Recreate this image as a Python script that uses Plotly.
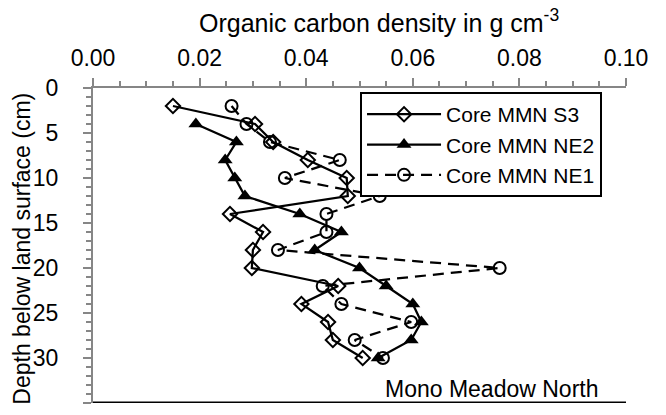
import plotly.graph_objects as go

# Depths (cm)
depth_s3 = [2, 4, 6, 8, 10, 12, 14, 16, 18, 20, 22, 24, 26, 28, 30]
ocd_s3 = [0.0150, 0.0304, 0.0338, 0.0403, 0.0476, 0.0478, 0.0257, 0.0319, 0.0300,
          0.0298, 0.0460, 0.0391, 0.0441, 0.0450, 0.0506]

depth_ne2 = [4, 6, 8, 10, 12, 14, 16, 18, 20, 22, 24, 26, 28, 30]
ocd_ne2 = [0.0193, 0.0269, 0.0248, 0.0266, 0.0285, 0.0388, 0.0466, 0.0416, 0.0500,
           0.0550, 0.0600, 0.0616, 0.0597, 0.0535]

depth_ne1 = [2, 4, 6, 8, 10, 12, 14, 16, 18, 20, 22, 24, 26, 28, 30]
ocd_ne1 = [0.0260, 0.0288, 0.0332, 0.0463, 0.0360, 0.0538, 0.0438, 0.0438, 0.0347,
           0.0763, 0.0431, 0.0466, 0.0597, 0.0491, 0.0544]

x_ticks = [0.00, 0.02, 0.04, 0.06, 0.08, 0.10]
y_ticks = [0, 5, 10, 15, 20, 25, 30, 35]

FONT = "Liberation Sans, Arial, sans-serif"
AX = "#868686"
FS = 23

fig = go.Figure()
fig.add_trace(go.Scatter(
    x=ocd_s3, y=depth_s3, mode="lines+markers", name="Core MMN S3",
    line=dict(color="black", width=2.25),
    marker=dict(symbol="diamond-open", size=11, color="black", line=dict(width=2, color="black")),
))
fig.add_trace(go.Scatter(
    x=ocd_ne2, y=depth_ne2, mode="lines+markers", name="Core MMN NE2",
    line=dict(color="black", width=2.25),
    marker=dict(symbol="triangle-up", size=13, color="black"),
))
fig.add_trace(go.Scatter(
    x=ocd_ne1, y=depth_ne1, mode="lines+markers", name="Core MMN NE1",
    line=dict(color="black", width=2.25, dash="11px,7px"),
    marker=dict(symbol="circle-open", size=12, color="black", line=dict(width=2, color="black")),
))

fig.update_layout(
    template="none",
    width=666, height=415,
    margin=dict(l=93, r=40, t=88, b=12, autoexpand=False),
    paper_bgcolor="white", plot_bgcolor="white",
    font=dict(family=FONT, size=FS, color="black"),
    showlegend=True,
    legend=dict(
        x=0.501, y=0.987, xanchor="left", yanchor="top",
        bgcolor="white", bordercolor="black", borderwidth=2,
        font=dict(size=21), tracegroupgap=0, itemwidth=74,
    ),
    xaxis=dict(
        side="top", range=[0, 0.1], tickvals=x_ticks, tickformat=".2f",
        ticks="outside", ticklen=8, tickwidth=1.5, tickcolor=AX, automargin=False,
        showline=True, linecolor=AX, linewidth=2, showgrid=False, zeroline=False,
        minor=dict(dtick=0.005, ticks="outside", ticklen=5, tickcolor=AX, tickwidth=1.5),
        tickfont=dict(size=FS), ticklabelstandoff=3,
    ),
    yaxis=dict(
        range=[35, 0], tickvals=y_ticks, automargin=False,
        ticks="outside", ticklen=8, tickwidth=1.5, tickcolor=AX,
        showline=True, linecolor=AX, linewidth=2, showgrid=False, zeroline=False,
        minor=dict(dtick=1, ticks="outside", ticklen=5, tickcolor=AX, tickwidth=1.5),
        tickfont=dict(size=FS), ticklabelstandoff=20,
    ),
    shapes=[dict(type="line", xref="paper", yref="y", x0=0, x1=1, y0=35, y1=35,
                 line=dict(color="black", width=3))],
    annotations=[
        dict(text="Organic carbon density in g cm<sup>-3</sup>", xref="paper", yref="paper",
             x=0.537, y=1, yshift=67, xanchor="center", yanchor="middle", showarrow=False,
             font=dict(size=25)),
        dict(text="Depth below land surface (cm)", xref="paper", yref="paper",
             x=0, xshift=-71, y=0.49, xanchor="center", yanchor="middle", textangle=-90,
             showarrow=False, font=dict(size=FS)),
        dict(text="Mono Meadow North", xref="paper", yref="paper",
             x=0.544, y=0.044, xanchor="left", yanchor="middle", showarrow=False,
             font=dict(size=FS)),
    ],
)

fig.write_html("out.html", config={"displayModeBar": False},
               post_script="document.body.style.margin='0';")
